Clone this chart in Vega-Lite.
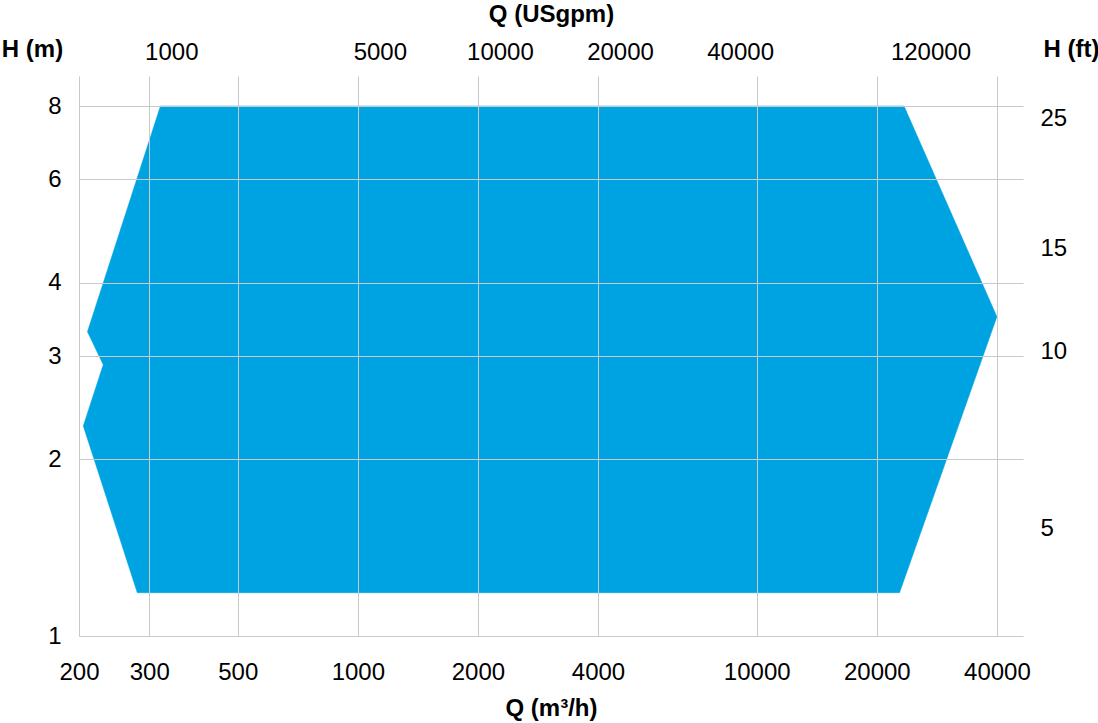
{
  "$schema": "https://vega.github.io/schema/vega-lite/v6.json",
  "width": 944,
  "height": 560,
  "autosize": {"type": "none"},
  "padding": {"left": 79, "top": 76, "right": 75, "bottom": 87},
  "background": "white",
  "config": {
    "font": "Liberation Sans",
    "view": {"stroke": null},
    "axis": {
      "labelFont": "Liberation Sans",
      "labelFontSize": 24,
      "labelColor": "#000000",
      "titleFont": "Liberation Sans",
      "titleFontSize": 24,
      "titleFontWeight": "bold",
      "titleColor": "#000000",
      "domain": false,
      "ticks": false,
      "labelOverlap": false,
      "labelFlush": false,
      "gridColor": "#c9c9c9",
      "gridWidth": 1
    }
  },
  "layer": [
    {
      "data": {
        "values": [
          {"i": 1, "Q": 320, "H": 8},
          {"i": 2, "Q": 23400, "H": 8},
          {"i": 3, "Q": 40000, "H": 3.5},
          {"i": 4, "Q": 22800, "H": 1.185},
          {"i": 5, "Q": 280, "H": 1.185},
          {"i": 6, "Q": 205, "H": 2.28},
          {"i": 7, "Q": 230, "H": 2.9},
          {"i": 8, "Q": 210, "H": 3.3}
        ]
      },
      "mark": {"type": "line", "interpolate": "linear-closed", "fill": "#00A3E1", "stroke": "#00A3E1", "strokeWidth": 0.5},
      "encoding": {
        "x": {
          "field": "Q",
          "type": "quantitative",
          "scale": {"type": "log", "domain": [200, 46500], "nice": false},
          "axis": {
            "orient": "bottom",
            "values": [200, 300, 500, 1000, 2000, 4000, 10000, 20000, 40000],
            "format": "d",
            "grid": true,
            "zindex": 1,
            "labelPadding": 24,
            "title": "Q (m³/h)",
            "titleY": 72,
            "titleBaseline": "middle"
          }
        },
        "y": {
          "field": "H",
          "type": "quantitative",
          "scale": {"type": "log", "domain": [1, 9], "nice": false},
          "axis": {
            "orient": "left",
            "values": [1, 2, 3, 4, 6, 8],
            "format": "d",
            "grid": true,
            "zindex": 1,
            "labelPadding": 18,
            "title": "H (m)",
            "titleAngle": 0,
            "titleX": -47,
            "titleY": -27,
            "titleAlign": "center",
            "titleBaseline": "middle"
          }
        },
        "order": {"field": "i"}
      }
    },
    {
      "data": {
        "values": [
          {"gpm": 1500, "ft": 5},
          {"gpm": 5000, "ft": 10},
          {"gpm": 10000, "ft": 15},
          {"gpm": 20000, "ft": 25},
          {"gpm": 40000, "ft": 25},
          {"gpm": 120000, "ft": 25}
        ]
      },
      "mark": {"type": "point", "opacity": 0},
      "encoding": {
        "x": {
          "field": "gpm",
          "type": "quantitative",
          "scale": {"type": "log", "domain": [880.57, 204733], "nice": false},
          "axis": {
            "orient": "top",
            "values": [1500, 5000, 10000, 20000, 40000, 120000],
            "labelExpr": "datum.value == 1500 ? '1000' : format(datum.value, 'd')",
            "grid": false,
            "labelPadding": 12,
            "title": "Q (USgpm)",
            "titleY": -62,
            "titleBaseline": "middle"
          }
        },
        "y": {
          "field": "ft",
          "type": "quantitative",
          "scale": {"type": "log", "domain": [3.28084, 29.52756], "nice": false},
          "axis": {
            "orient": "right",
            "values": [5, 10, 15, 25],
            "format": "d",
            "grid": false,
            "labelPadding": 17,
            "title": "H (ft)",
            "titleAngle": 0,
            "titleX": 20,
            "titleY": -27,
            "titleAlign": "left",
            "titleBaseline": "middle"
          }
        }
      }
    }
  ],
  "resolve": {
    "scale": {"x": "independent", "y": "independent"},
    "axis": {"x": "independent", "y": "independent"}
  }
}
